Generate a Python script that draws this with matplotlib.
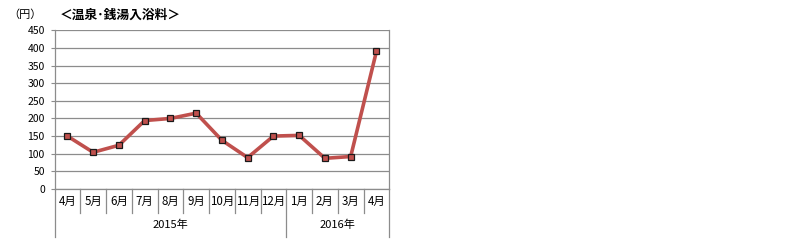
import matplotlib
matplotlib.use('Agg')
import matplotlib.pyplot as plt
import matplotlib.transforms as mtransforms

plt.rcParams['font.family'] = ['Noto Sans CJK JP', 'DejaVu Sans']

months = ['4月', '5月', '6月', '7月', '8月', '9月', '10月', '11月', '12月',
          '1月', '2月', '3月', '4月']
years = ['2015年', '2016年']
year_counts = [9, 4]
prices = [150, 104, 124, 194, 200, 215, 138, 89, 150, 152, 87, 92, 390]
yticks = list(range(0, 451, 50))

GRID = '#8c8c8c'
LINE = '#c0504d'

fig = plt.figure(figsize=(7.9, 2.5), dpi=100)
ax = fig.add_axes([0.069, 0.244, 0.4238, 0.635])

x = list(range(len(months)))
ax.plot(x, prices, color=LINE, lw=2.6, marker='s', ms=5,
        mfc=LINE, mec='#1a1a1a', mew=0.9, zorder=3)

ax.set_xlim(-0.5, len(months) - 0.5)
ax.set_ylim(0, 450)
ax.set_yticks(yticks)
ax.set_yticklabels([str(v) for v in yticks], fontsize=7.5)
ax.yaxis.grid(True, color=GRID, lw=0.9)
ax.set_axisbelow(True)
ax.tick_params(axis='y', length=3, color=GRID, pad=4)
ax.set_xticks([])
for s in ['left', 'right', 'bottom']:
    ax.spines[s].set_color(GRID)
    ax.spines[s].set_linewidth(0.9)
ax.spines['top'].set_visible(False)

# category table below the axis
trans = mtransforms.blended_transform_factory(ax.transData, ax.transAxes)
row1 = -0.152
row2 = -0.302
year_edges = [-0.5]
for c in year_counts:
    year_edges.append(year_edges[-1] + c)
for i in range(len(months) + 1):
    xe = i - 0.5
    bottom = row2 if xe in year_edges else row1
    ax.plot([xe, xe], [0, bottom], transform=trans, color=GRID, lw=0.9,
            clip_on=False)
for i, m in enumerate(months):
    ax.text(i, -0.076, m, transform=trans, ha='center', va='center',
            fontsize=8.3)
for j, yl in enumerate(years):
    xc = (year_edges[j] + year_edges[j + 1]) / 2
    ax.text(xc, -0.227, yl, transform=trans, ha='center', va='center',
            fontsize=8)

fig.text(8 / 790, 1 - 15 / 250, '（円）', fontsize=8, va='center', ha='left')
fig.text(60 / 790, 1 - 15 / 250, '＜温泉･銭湯入浴料＞', fontsize=9.2,
         fontweight='bold', va='center', ha='left')

fig.savefig('out.png', dpi=100)
